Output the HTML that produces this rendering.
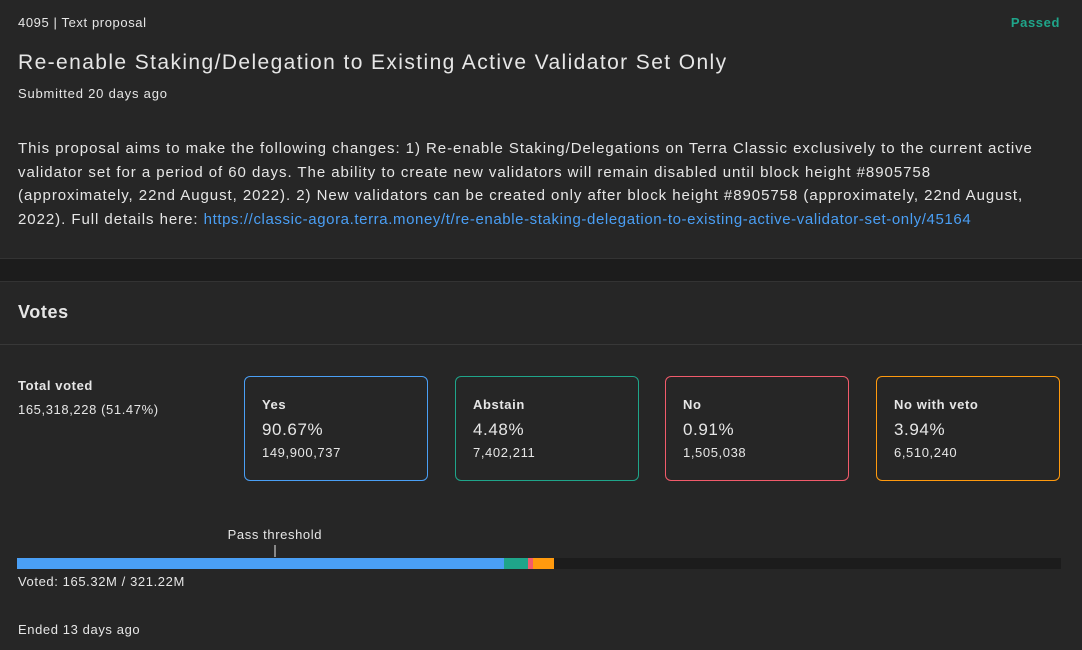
<!DOCTYPE html>
<html><head><meta charset="utf-8"><style>
*{margin:0;padding:0;box-sizing:border-box}
body{width:1082px;height:650px;background:#262626;font-family:"Liberation Sans",sans-serif;color:#e6e6e6;position:relative;overflow:hidden;letter-spacing:0.6px}
.a{position:absolute;white-space:nowrap}
.card{position:absolute;top:376px;width:184px;height:105px;border:1px solid;border-radius:6px}
.card .t{position:absolute;left:17px;top:20px;font-size:13px;font-weight:bold}
.card .p{position:absolute;left:17px;top:43px;font-size:17px}
.card .n{position:absolute;left:17px;top:68px;font-size:13px}
</style></head><body>
<div class="a" style="left:18px;top:15px;font-size:13px">4095 | Text proposal</div>
<div class="a" style="right:22px;top:15px;font-size:13px;font-weight:bold;color:#1fa58a">Passed</div>
<div class="a" style="left:18px;top:51px;font-size:21px;letter-spacing:1.4px">Re-enable Staking/Delegation to Existing Active Validator Set Only</div>
<div class="a" style="left:18px;top:86px;font-size:13px;letter-spacing:0.8px">Submitted 20 days ago</div>
<div class="a" style="left:18px;top:137px;font-size:15px;line-height:23.5px;letter-spacing:0.95px">This proposal aims to make the following changes: 1) Re-enable Staking/Delegations on Terra Classic exclusively to the current active<br>validator set for a period of 60 days. The ability to create new validators will remain disabled until block height #8905758<br>(approximately, 22nd August, 2022). 2) New validators can be created only after block height #8905758 (approximately, 22nd August,<br>2022). Full details here: <a style="color:#4a9ff5;text-decoration:none;letter-spacing:0.6px">https://classic-agora.terra.money/t/re-enable-staking-delegation-to-existing-active-validator-set-only/45164</a></div>
<div class="a" style="left:0;top:258px;width:1082px;height:24px;background:#1c1c1c;border-top:1px solid #333;border-bottom:1px solid #333"></div>
<div class="a" style="left:18px;top:302px;font-size:18px;font-weight:bold">Votes</div>
<div class="a" style="left:0;top:344px;width:1082px;height:1px;background:#383838"></div>
<div class="a" style="left:18px;top:378px;font-size:13px;font-weight:bold">Total voted</div>
<div class="a" style="left:18px;top:402px;font-size:13px">165,318,228 (51.47%)</div>
<div class="card" style="left:244px;border-color:#4a9ff5"><div class="t">Yes</div><div class="p">90.67%</div><div class="n">149,900,737</div></div>
<div class="card" style="left:455px;border-color:#1fa58a"><div class="t">Abstain</div><div class="p">4.48%</div><div class="n">7,402,211</div></div>
<div class="card" style="left:665px;border-color:#f25b6b"><div class="t">No</div><div class="p">0.91%</div><div class="n">1,505,038</div></div>
<div class="card" style="left:876px;border-color:#ff9a0e"><div class="t">No with veto</div><div class="p">3.94%</div><div class="n">6,510,240</div></div>
<div id="bar" class="a" style="left:17px;top:558px;width:1044px;height:11px;background:#1c1c1c;display:flex"></div>
<div id="thr" class="a" style="top:527px;font-size:13px;text-align:center"></div>
<div class="a" style="left:18px;top:574px;font-size:13px">Voted: 165.32M / 321.22M</div>
<div class="a" style="left:18px;top:622px;font-size:13px">Ended 13 days ago</div>
<script>
const categories=["yes","abstain","no","veto"];
const votes=[149900737,7402211,1505038,6510240];
const colors=["#4a9ff5","#1fa58a","#f25b6b","#ff9a0e"];
const totalStake=321220000;
const thresholdFrac=0.247;
const bar=document.getElementById('bar');
const W=1044;
categories.forEach((c,i)=>{
const s=document.createElement('div');


s.style.width=(votes[i]/totalStake*W)+'px';
s.style.background=colors[i];
bar.appendChild(s);
});
const t=document.getElementById('thr');
const x=17+thresholdFrac*W;
t.style.left=(x-60)+'px';t.style.width='120px';
t.innerHTML='<div>Pass threshold</div><div style="width:2px;height:12px;background:#888;margin:3px auto 0"></div>';
</script>
</body></html>
